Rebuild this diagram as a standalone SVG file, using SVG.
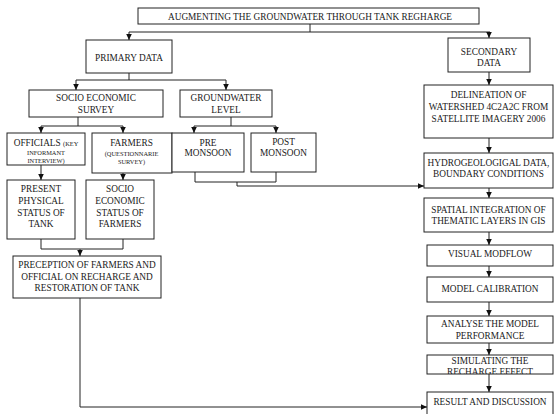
<svg xmlns="http://www.w3.org/2000/svg" width="557" height="414" viewBox="0 0 557 414">
<style>
.box{fill:#fff;stroke:#222;stroke-width:1}
.t{font-family:"Liberation Serif","Times New Roman",serif;font-size:9.3px;fill:#1a1a1a;text-anchor:middle}
.s{font-size:6.4px}
.c{fill:none;stroke:#222;stroke-width:1}
.a{marker-end:url(#arr)}
</style>
<defs>
<marker id="arr" markerUnits="userSpaceOnUse" markerWidth="6" markerHeight="6" refX="6" refY="3" orient="auto">
<path d="M0,0.2 L6,3 L0,5.8 z" fill="#111"/>
</marker>
<clipPath id="simclip"><rect x="427" y="355" width="126" height="19"/></clipPath>
</defs>
<rect width="557" height="414" fill="#fff"/>

<g id="connectors">
<path class="c" d="M310,24 V32 M129,32 H490"/>
<path class="c a" d="M129,32 V40"/>
<path class="c a" d="M489,32 V38"/>
<path class="c" d="M129,73 V80 M76,80 H226"/>
<path class="c a" d="M76,80 V90"/>
<path class="c a" d="M226,80 V90"/>
<path class="c" d="M78,117 V126 M41,126 H123"/>
<path class="c a" d="M41,126 V133"/>
<path class="c a" d="M123,126 V133"/>
<path class="c" d="M231,117 V126 M194,126 H276"/>
<path class="c a" d="M194,126 V133"/>
<path class="c a" d="M276,126 V133"/>
<path class="c a" d="M41,165 V180"/>
<path class="c a" d="M123,173 V180"/>
<path class="c" d="M41,239 V249 H123 V239"/>
<path class="c a" d="M80,249 V256"/>
<path class="c" d="M195,172 V182 H276 V172"/>
<path class="c a" d="M237,182 V186 H424"/>
<path class="c a" d="M80,298 V407 H427"/>
<path class="c a" d="M489,72 V85"/>
<path class="c a" d="M489,138 V153"/>
<path class="c a" d="M489,188 V198"/>
<path class="c a" d="M489,232 V245"/>
<path class="c a" d="M489,266 V277"/>
<path class="c a" d="M489,302 V316"/>
<path class="c a" d="M489,343 V355"/>
<path class="c a" d="M489,374 V392"/>
</g>

<g id="title">
<rect class="box" x="138" y="8" width="341" height="16"/>
<text class="t" x="310" y="19.5">AUGMENTING THE GROUNDWATER THROUGH TANK REGHARGE</text>
</g>
<g id="primary">
<rect class="box" x="86" y="40" width="86" height="33"/>
<text class="t" x="129" y="61">PRIMARY DATA</text>
</g>
<g id="secondary">
<rect class="box" x="448" y="38" width="82" height="34"/>
<text class="t" x="489" y="55">SECONDARY</text>
<text class="t" x="489" y="66">DATA</text>
</g>
<g id="socio-survey">
<rect class="box" x="29" y="90" width="134" height="27"/>
<text class="t" x="96" y="101">SOCIO ECONOMIC</text>
<text class="t" x="96" y="113">SURVEY</text>
</g>
<g id="groundwater">
<rect class="box" x="180" y="90" width="92" height="27"/>
<text class="t" x="226" y="101">GROUNDWATER</text>
<text class="t" x="226" y="113">LEVEL</text>
</g>
<g id="officials">
<rect class="box" x="7" y="133" width="78" height="32"/>
<text class="t" x="46" y="146">OFFICIALS <tspan class="s">(KEY</tspan></text>
<text class="t s" x="46" y="155">INFORMANT</text>
<text class="t s" x="46" y="163">INTERVIEW)</text>
</g>
<g id="farmers">
<rect class="box" x="92" y="133" width="80" height="40"/>
<text class="t" x="131.5" y="146">FARMERS</text>
<text class="t s" x="131.5" y="155.5">(QUESTIONNARIE</text>
<text class="t s" x="131.5" y="164">SURVEY)</text>
</g>
<g id="pre-monsoon">
<rect class="box" x="172" y="133" width="72" height="39"/>
<text class="t" x="208" y="146">PRE</text>
<text class="t" x="208" y="156">MONSOON</text>
</g>
<g id="post-monsoon">
<rect class="box" x="251" y="133" width="65" height="39"/>
<text class="t" x="283.5" y="145">POST</text>
<text class="t" x="283.5" y="156">MONSOON</text>
</g>
<g id="present-status">
<rect class="box" x="7" y="180" width="68" height="59"/>
<text class="t" x="41" y="192">PRESENT</text>
<text class="t" x="41" y="204">PHYSICAL</text>
<text class="t" x="41" y="215.5">STATUS OF</text>
<text class="t" x="41" y="227">TANK</text>
</g>
<g id="socio-status">
<rect class="box" x="86" y="180" width="68" height="59"/>
<text class="t" x="120" y="192">SOCIO</text>
<text class="t" x="120" y="204">ECONOMIC</text>
<text class="t" x="120" y="215.5">STATUS OF</text>
<text class="t" x="120" y="227">FARMERS</text>
</g>
<g id="preception">
<rect class="box" x="13" y="256" width="148" height="42"/>
<text class="t" x="87" y="268">PRECEPTION OF FARMERS AND</text>
<text class="t" x="87" y="280">OFFICIAL ON RECHARGE AND</text>
<text class="t" x="87" y="291">RESTORATION OF TANK</text>
</g>
<g id="delineation">
<rect class="box" x="424" y="85" width="129" height="53"/>
<text class="t" x="488.5" y="98">DELINEATION OF</text>
<text class="t" x="488.5" y="110">WATERSHED 4C2A2C FROM</text>
<text class="t" x="488.5" y="122">SATELLITE IMAGERY 2006</text>
</g>
<g id="hydrogeological">
<rect class="box" x="424" y="153" width="129" height="35"/>
<text class="t" x="488.5" y="166">HYDROGEOLOGIGAL DATA,</text>
<text class="t" x="488.5" y="177">BOUNDARY CONDITIONS</text>
</g>
<g id="spatial">
<rect class="box" x="424" y="198" width="129" height="34"/>
<text class="t" x="488.5" y="213">SPATIAL INTEGRATION OF</text>
<text class="t" x="488.5" y="224">THEMATIC LAYERS IN GIS</text>
</g>
<g id="visual-modflow">
<rect class="box" x="427" y="245" width="126" height="21"/>
<text class="t" x="490" y="256.5">VISUAL MODFLOW</text>
</g>
<g id="calibration">
<rect class="box" x="427" y="277" width="126" height="25"/>
<text class="t" x="490" y="292">MODEL CALIBRATION</text>
</g>
<g id="analyse">
<rect class="box" x="427" y="316" width="126" height="27"/>
<text class="t" x="490" y="327">ANALYSE THE MODEL</text>
<text class="t" x="490" y="338.5">PERFORMANCE</text>
</g>
<g id="simulating">
<rect class="box" x="427" y="355" width="126" height="19"/>
<text class="t" x="490" y="364">SIMULATING THE</text>
<text class="t" x="490" y="375" clip-path="url(#simclip)">RECHARGE EFFECT</text>
</g>
<g id="result">
<rect class="box" x="427" y="392" width="126" height="30"/>
<text class="t" x="490" y="405">RESULT AND DISCUSSION</text>
</g>
</svg>
